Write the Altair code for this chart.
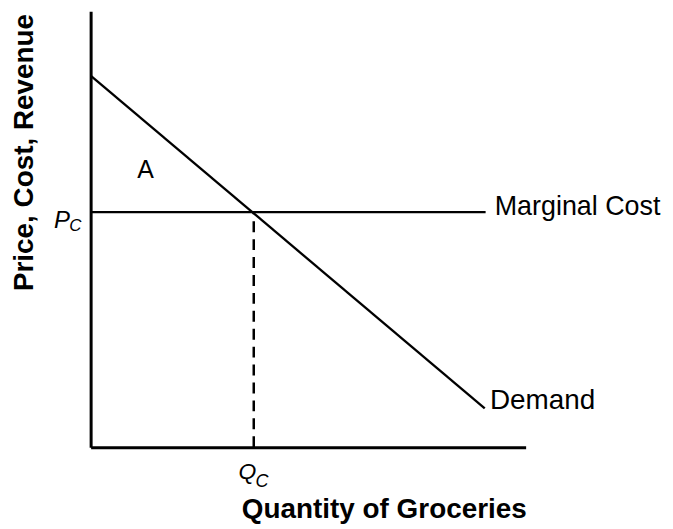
import altair as alt
import pandas as pd

# Curves (quantity on x, price on y; axes run 0..100)
demand_q = [0.0, 90.6]
demand_p = [85.2, 8.9]
mc_q = [0.0, 90.8]
mc_p = [53.9, 53.9]
qc_value = 37.5
pc_value = 53.9

# Upright labels
up_text = ["Marginal Cost", "Demand", "A"]
up_q = [92.9, 91.8, 12.6]
up_p = [53.2, 8.7, 61.8]
up_size = [27, 28, 25]
up_align = ["left", "left", "center"]

# Italic labels (P_C, Q_C)
it_text = ["P", "C", "Q", "C"]
it_q = [-8.4, -4.9, 34.0, 37.9]
it_p = [50.2, 49.6, -7.3, -9.1]
it_size = [24, 17, 23, 18]

FONT = "Liberation Sans"

xs = alt.Scale(domain=[0, 100], nice=False, zero=False)
ys = alt.Scale(domain=[0, 100], nice=False, zero=False)

demand_df = pd.DataFrame({"q": demand_q, "p": demand_p})
mc_df = pd.DataFrame({"q": mc_q, "p": mc_p})
qc_df = pd.DataFrame({"q": [qc_value], "p0": [0.0], "p1": [pc_value]})
up_df = pd.DataFrame({"t": up_text, "q": up_q, "p": up_p, "s": up_size, "a": up_align})
it_df = pd.DataFrame({"t": it_text, "q": it_q, "p": it_p, "s": it_size})

xaxis = alt.Axis(
    title="Quantity of Groceries", domain=True, domainColor="black", domainWidth=3,
    ticks=False, labels=False, grid=False,
    titleFont=FONT, titleFontSize=28, titleFontWeight="bold", titleColor="black",
    titleX=294.5, titleY=71, titleAlign="center", titleBaseline="alphabetic",
)
yaxis = alt.Axis(
    title="Price, Cost, Revenue", domain=True, domainColor="black", domainWidth=3,
    ticks=False, labels=False, grid=False,
    titleFont=FONT, titleFontSize=28, titleFontWeight="bold", titleColor="black",
    titleX=-58, titleY=141.5, titleAngle=270, titleAlign="center", titleBaseline="alphabetic",
)

demand = alt.Chart(demand_df).mark_line(color="black", strokeWidth=2.3).encode(
    x=alt.X("q:Q", scale=xs, axis=xaxis),
    y=alt.Y("p:Q", scale=ys, axis=yaxis),
)
mc = alt.Chart(mc_df).mark_line(color="black", strokeWidth=2.3).encode(
    x=alt.X("q:Q", scale=xs),
    y=alt.Y("p:Q", scale=ys),
)
dash = alt.Chart(qc_df).mark_rule(color="black", strokeWidth=2.5, strokeDash=[11, 7]).encode(
    x=alt.X("q:Q", scale=xs),
    y=alt.Y("p0:Q", scale=ys),
    y2="p1:Q",
)
up_left = alt.Chart(up_df).transform_filter("datum.a == 'left'").mark_text(
    font=FONT, color="black", align="left", baseline="alphabetic"
).encode(
    x=alt.X("q:Q", scale=xs), y=alt.Y("p:Q", scale=ys),
    text="t:N", size=alt.Size("s:Q", scale=None),
)
up_center = alt.Chart(up_df).transform_filter("datum.a == 'center'").mark_text(
    font=FONT, color="black", align="center", baseline="alphabetic"
).encode(
    x=alt.X("q:Q", scale=xs), y=alt.Y("p:Q", scale=ys),
    text="t:N", size=alt.Size("s:Q", scale=None),
)
italic = alt.Chart(it_df).mark_text(
    font=FONT, color="black", align="left", baseline="alphabetic", fontStyle="italic"
).encode(
    x=alt.X("q:Q", scale=xs), y=alt.Y("p:Q", scale=ys),
    text="t:N", size=alt.Size("s:Q", scale=None),
)

chart = alt.layer(demand, mc, dash, up_left, up_center, italic).properties(
    width=437, height=438,
    background="white",
    autosize=alt.AutoSizeParams(type="none"),
    padding={"left": 83, "top": 2, "right": 140, "bottom": 79},
).configure_view(stroke=None)

chart.save("out.html", embed_options={"renderer": "svg", "actions": False})
